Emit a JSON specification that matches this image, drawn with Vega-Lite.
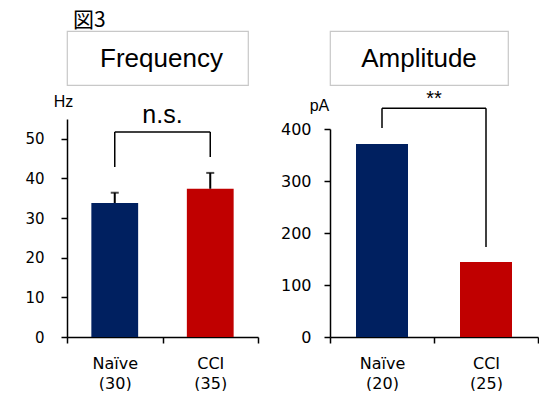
{
  "$schema": "https://vega.github.io/schema/vega-lite/v6.json",
  "background": "white",
  "padding": {"left": 24, "top": 10, "right": 0, "bottom": 0},
  "title": {"text": "図3", "anchor": "start", "frame": "group", "font": "Noto Sans CJK JP", "fontSize": 21, "fontWeight": "normal", "color": "#000", "baseline": "alphabetic", "offset": -18, "dx": 6},
  "spacing": 21,
  "hconcat": [
    {
      "bounds": "flush",
      "spacing": 34,
      "vconcat": [
        {
          "width": 181, "height": 54,
          "view": {"stroke": "#c8c8c8", "strokeWidth": 1.2, "fill": "white"},
          "data": {"values": [{"panel": "Frequency"}]},
          "mark": {"type": "text", "font": "Liberation Sans", "fontSize": 26, "dx": 4, "dy": 1, "color": "#000"},
          "encoding": {"text": {"field": "panel"}}
        },
        {
          "width": 191, "height": 218,
          "layer": [
            {
              "data": {"values": [
                {"label": "Naïve|(30)", "grp": "Naïve", "mean": 33.8, "err": 36.4},
                {"label": "CCI|(35)", "grp": "CCI", "mean": 37.4, "err": 41.4}
              ]},
              "layer": [
                {
                  "mark": {"type": "bar", "width": {"band": 0.49}},
                  "encoding": {
                    "x": {"field": "label", "type": "nominal", "sort": null,
                      "scale": {"paddingInner": 0, "paddingOuter": 0},
                      "axis": {"title": null, "labelAngle": 0, "labelExpr": "split(datum.label, '|')", "tickBand": "extent",
                        "labelFont": "DejaVu Sans", "labelFontSize": 16, "labelLineHeight": 20, "labelPadding": 12, "labelBaseline": "top",
                        "domainColor": "#000", "domainWidth": 1.5, "tickColor": "#000", "tickWidth": 1.5, "tickSize": 6, "labelColor": "#000"}},
                    "y": {"field": "mean", "type": "quantitative",
                      "scale": {"domain": [0, 55], "nice": false},
                      "axis": {"values": [0, 10, 20, 30, 40, 50], "grid": false, "title": "Hz", "titleAngle": 0, "titleX": -4, "titleY": -18,
                        "titleAlign": "center", "titleBaseline": "middle", "titleFont": "Liberation Sans", "titleFontSize": 16, "titleFontWeight": "normal", "titleColor": "#000",
                        "labelFont": "DejaVu Sans", "labelFontSize": 15, "labelPadding": 17, "labelColor": "#000",
                        "domainColor": "#000", "domainWidth": 1.5, "tickColor": "#000", "tickWidth": 1.5, "tickSize": 6}},
                    "color": {"field": "grp", "type": "nominal", "scale": {"domain": ["Naïve", "CCI"], "range": ["#002060", "#C00000"]}, "legend": null}
                  }
                },
                {
                  "mark": {"type": "rule", "color": "#000", "strokeWidth": 2},
                  "encoding": {
                    "x": {"field": "label", "type": "nominal", "sort": null},
                    "y": {"field": "mean", "type": "quantitative"},
                    "y2": {"field": "err"}
                  }
                },
                {
                  "mark": {"type": "tick", "color": "#000", "thickness": 2, "size": 8, "orient": "horizontal"},
                  "encoding": {
                    "x": {"field": "label", "type": "nominal", "sort": null},
                    "y": {"field": "err", "type": "quantitative"}
                  }
                }
              ]
            },
            {
              "data": {"values": [
                {"label": "Naïve|(30)", "lo": 42.9, "hi": 51.7},
                {"label": "CCI|(35)", "lo": 45.4, "hi": 51.7}
              ]},
              "mark": {"type": "rule", "color": "#000", "strokeWidth": 1.5},
              "encoding": {
                "x": {"field": "label", "type": "nominal", "sort": null},
                "y": {"field": "lo", "type": "quantitative"},
                "y2": {"field": "hi"}
              }
            },
            {
              "data": {"values": [
                {"from": "Naïve|(30)", "to": "CCI|(35)", "top": 51.7, "sig": "n.s."}
              ]},
              "layer": [
                {
                  "mark": {"type": "rule", "color": "#000", "strokeWidth": 1.5},
                  "encoding": {
                    "x": {"field": "from", "type": "nominal", "sort": null},
                    "x2": {"field": "to"},
                    "y": {"field": "top", "type": "quantitative"}
                  }
                },
                {
                  "mark": {"type": "text", "font": "Liberation Sans", "fontSize": 25, "baseline": "alphabetic", "dy": -9, "color": "#000"},
                  "encoding": {
                    "x": {"field": "from", "type": "nominal", "sort": null, "bandPosition": 1},
                    "y": {"field": "top", "type": "quantitative"},
                    "text": {"field": "sig"}
                  }
                }
              ]
            }
          ]
        }
      ]
    },
    {
      "bounds": "flush",
      "spacing": 44,
      "vconcat": [
        {
          "width": 178, "height": 54,
          "view": {"stroke": "#c8c8c8", "strokeWidth": 1.2, "fill": "white"},
          "data": {"values": [{"panel": "Amplitude"}]},
          "mark": {"type": "text", "font": "Liberation Sans", "fontSize": 26, "dy": 1, "color": "#000"},
          "encoding": {"text": {"field": "panel"}}
        },
        {
          "width": 208, "height": 208,
          "layer": [
            {
              "data": {"values": [
                {"label": "Naïve|(20)", "grp": "Naïve", "mean": 371},
                {"label": "CCI|(25)", "grp": "CCI", "mean": 144}
              ]},
              "mark": {"type": "bar", "width": {"band": 0.5}},
              "encoding": {
                "x": {"field": "label", "type": "nominal", "sort": null,
                  "scale": {"paddingInner": 0, "paddingOuter": 0},
                  "axis": {"title": null, "labelAngle": 0, "labelExpr": "split(datum.label, '|')", "tickBand": "extent",
                    "labelFont": "DejaVu Sans", "labelFontSize": 16, "labelLineHeight": 20, "labelPadding": 12, "labelBaseline": "top",
                    "domainColor": "#000", "domainWidth": 1.5, "tickColor": "#000", "tickWidth": 1.5, "tickSize": 6, "labelColor": "#000"}},
                "y": {"field": "mean", "type": "quantitative",
                  "scale": {"domain": [0, 400], "nice": false},
                  "axis": {"values": [0, 100, 200, 300, 400], "grid": false, "title": "pA", "titleAngle": 0, "titleX": -11, "titleY": -24,
                    "titleAlign": "center", "titleBaseline": "middle", "titleFont": "Liberation Sans", "titleFontSize": 16, "titleFontWeight": "normal", "titleColor": "#000",
                    "labelFont": "DejaVu Sans", "labelFontSize": 16, "labelPadding": 13, "labelColor": "#000",
                    "domainColor": "#000", "domainWidth": 1.5, "tickColor": "#000", "tickWidth": 1.5, "tickSize": 6}},
                "color": {"field": "grp", "type": "nominal", "scale": {"domain": ["Naïve", "CCI"], "range": ["#002060", "#C00000"]}, "legend": null}
              }
            },
            {
              "data": {"values": [
                {"label": "Naïve|(20)", "lo": 402, "hi": 440},
                {"label": "CCI|(25)", "lo": 173, "hi": 440}
              ]},
              "mark": {"type": "rule", "color": "#000", "strokeWidth": 1.5},
              "encoding": {
                "x": {"field": "label", "type": "nominal", "sort": null},
                "y": {"field": "lo", "type": "quantitative"},
                "y2": {"field": "hi"}
              }
            },
            {
              "data": {"values": [
                {"from": "Naïve|(20)", "to": "CCI|(25)", "top": 440, "sig": "**"}
              ]},
              "layer": [
                {
                  "mark": {"type": "rule", "color": "#000", "strokeWidth": 1.5},
                  "encoding": {
                    "x": {"field": "from", "type": "nominal", "sort": null},
                    "x2": {"field": "to"},
                    "y": {"field": "top", "type": "quantitative"}
                  }
                },
                {
                  "mark": {"type": "text", "font": "Liberation Sans", "fontSize": 20, "baseline": "alphabetic", "dy": -3, "color": "#000"},
                  "encoding": {
                    "x": {"field": "from", "type": "nominal", "sort": null, "bandPosition": 1},
                    "y": {"field": "top", "type": "quantitative"},
                    "text": {"field": "sig"}
                  }
                }
              ]
            }
          ]
        }
      ]
    }
  ],
  "config": {
    "view": {"stroke": null},
    "font": "DejaVu Sans"
  }
}
